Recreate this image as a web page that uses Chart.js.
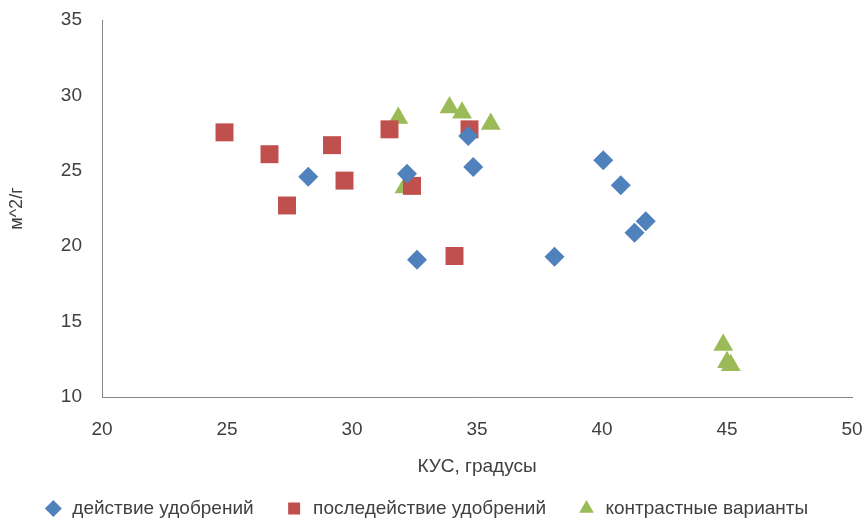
<!DOCTYPE html>
<html>
<head>
<meta charset="utf-8">
<script src="https://cdn.jsdelivr.net/npm/chart.js@4"></script>
<style>
  html, body { margin: 0; padding: 0; background: #fff; }
  #wrap { width: 866px; height: 518px; }
</style>
</head>
<body>
<div id="wrap"><canvas id="myChart" width="866" height="518"></canvas></div>
<script>
// действие удобрений
let actionX = [28.25, 32.2, 34.65, 34.85, 32.6, 40.05, 40.75, 41.75, 41.3, 38.1];
let actionY = [24.6, 24.8, 27.3, 25.25, 19.1, 25.7, 24.05, 21.65, 20.9, 19.3];
// последействие удобрений
let afterX = [24.9, 26.7, 29.2, 29.7, 27.4, 31.5, 32.4, 34.7, 34.1];
let afterY = [27.55, 26.1, 26.7, 24.35, 22.7, 27.75, 24.0, 27.75, 19.35];
// контрастные варианты
let contrastX = [31.85, 33.9, 34.4, 35.55, 32.1, 44.85, 45.0, 45.15];
let contrastY = [28.5, 29.2, 28.85, 28.1, 23.9, 13.45, 12.3, 12.1];

let xTicks = [20, 25, 30, 35, 40, 45, 50];
let yTicks = [10, 15, 20, 25, 30, 35];

let seriesNames = ['действие удобрений', 'последействие удобрений', 'контрастные варианты'];
let colors = ['#4F81BD', '#C0504D', '#9BBB59'];

function pairs(xs, ys) {
    return xs.map(function(x, i) { return { x: x, y: ys[i] }; });
}

let fontFamily = "'Liberation Sans', sans-serif";
let textColor = '#404040';

let ctx = document.getElementById('myChart').getContext('2d');

let data = {
    datasets: [{
        label: seriesNames[0],
        data: pairs(actionX, actionY),
        pointStyle: 'rectRot',
        pointRadius: 10,
        backgroundColor: colors[0],
        borderColor: colors[0],
        borderWidth: 0
    }, {
        label: seriesNames[1],
        data: pairs(afterX, afterY),
        pointStyle: 'rect',
        pointRadius: 12.7,
        backgroundColor: colors[1],
        borderColor: colors[1],
        borderWidth: 0
    }, {
        label: seriesNames[2],
        data: pairs(contrastX, contrastY),
        pointStyle: 'triangle',
        pointRadius: 11.5,
        backgroundColor: colors[2],
        borderColor: colors[2],
        borderWidth: 0
    }]
};

let options = {
    responsive: false,
    animation: false,
    layout: { padding: { left: 0, right: 14, top: 20, bottom: -10 } },
    plugins: {
        tooltip: { enabled: false },
        legend: {
            display: true,
            position: 'bottom',
            labels: {
                color: textColor,
                font: { family: fontFamily, size: 19 },
                usePointStyle: true,
                boxHeight: 12,
                padding: 31
            }
        }
    },
    scales: {
        x: {
            type: 'linear',
            min: 20,
            max: 50,
            afterBuildTicks: function(scale) { scale.ticks = xTicks.map(function(v) { return { value: v }; }); },
            afterFit: function(scale) { scale.height = 71; scale.paddingRight = 0; },
            grid: { display: false, drawTicks: false },
            border: { display: true, color: '#868686', width: 1 },
            ticks: { color: textColor, font: { family: fontFamily, size: 19 }, padding: 21 },
            title: {
                display: true,
                text: 'КУС, градусы',
                color: textColor,
                font: { family: fontFamily, size: 19 },
                padding: { top: 0, bottom: -10 }
            }
        },
        y: {
            type: 'linear',
            min: 10,
            max: 35,
            afterBuildTicks: function(scale) { scale.ticks = yTicks.map(function(v) { return { value: v }; }); },
            afterFit: function(scale) { scale.width = 102; scale.paddingTop = 0; scale.paddingBottom = 0; },
            grid: { display: false, drawTicks: false },
            border: { display: true, color: '#868686', width: 1 },
            ticks: { color: textColor, font: { family: fontFamily, size: 19 }, padding: 20 },
            title: {
                display: true,
                text: 'м^2/г',
                color: textColor,
                font: { family: fontFamily, size: 18 },
                padding: { top: 6, bottom: 0 }
            }
        }
    }
};

let myChart = new Chart(ctx, {
    type: 'scatter',
    data: data,
    options: options
});
</script>
</body>
</html>
